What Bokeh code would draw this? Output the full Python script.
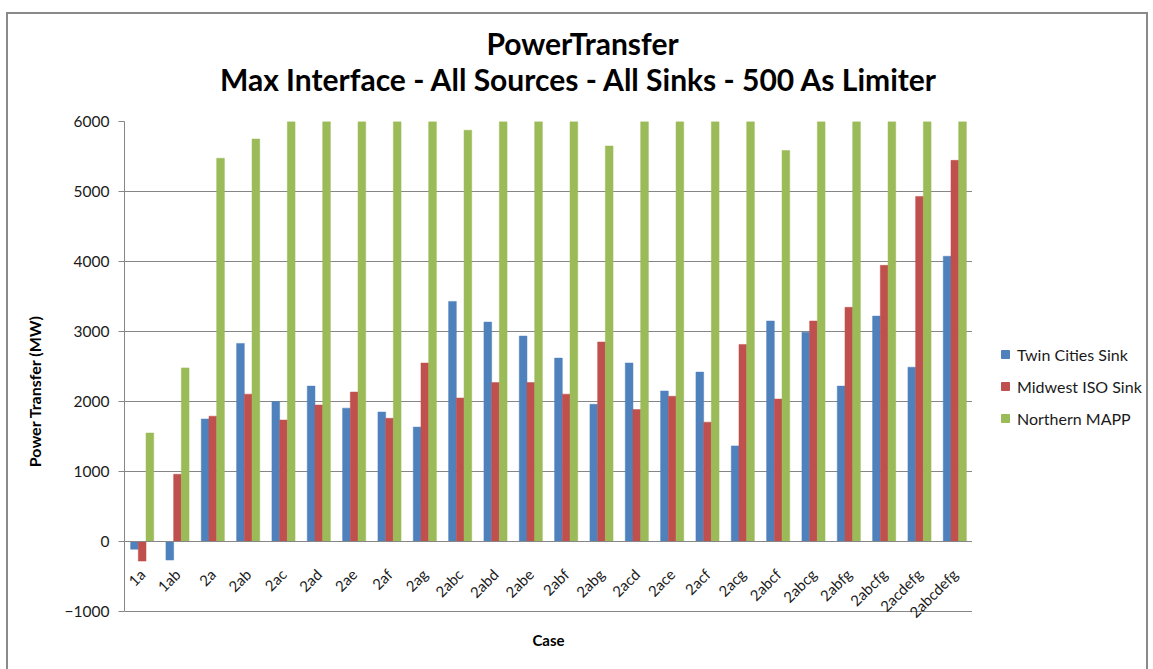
import math
import numpy as np
from bokeh.plotting import figure
from bokeh.models import (ColumnDataSource, FactorRange, Range1d, SingleIntervalTicker,
                          Legend, LegendItem, Label)
from bokeh.layouts import column, row
from bokeh.transform import dodge
from bokeh.embed import file_html
from bokeh.resources import INLINE

cases = ["1a", "1ab", "2a", "2ab", "2ac", "2ad", "2ae", "2af", "2ag", "2abc", "2abd",
         "2abe", "2abf", "2abg", "2acd", "2ace", "2acf", "2acg", "2abcf", "2abcg",
         "2abfg", "2abcfg", "2acdefg", "2abcdefg"]
twin_cities = [-110, -265, 1750, 2830, 2000, 2220, 1905, 1850, 1635, 3430, 3135,
               2935, 2620, 1960, 2550, 2150, 2420, 1365, 3150, 2990, 2220, 3220, 2490, 4075]
midwest_iso = [-280, 960, 1790, 2105, 1735, 1950, 2135, 1760, 2550, 2050, 2270,
               2270, 2105, 2850, 1885, 2075, 1705, 2815, 2035, 3150, 3345, 3945, 4930, 5445]
northern_mapp = [1550, 2480, 5475, 5750, 6000, 6000, 6000, 6000, 6000, 5875, 6000,
                 6000, 6000, 5650, 6000, 6000, 6000, 6000, 5585, 6000, 6000, 6000, 6000, 6000]
series_names = ["Twin Cities Sink", "Midwest ISO Sink", "Northern MAPP"]
title_lines = ["PowerTransfer", "Max Interface - All Sources - All Sinks - 500 As Limiter"]
y_title = "Power Transfer (MW)"
x_title = "Case"

FONT = "Lato"
colors = ["#4F81BD", "#C0504D", "#9BBB59"]
GRID = "#868686"
TXT = "#1a1a1a"

W_TOTAL = 1138
TITLE_H = 90
MAIN_W = 964
MAIN_H = 565

# ---------- title strip ----------
pt = figure(x_range=Range1d(0, W_TOTAL), y_range=Range1d(0, TITLE_H), width=W_TOTAL,
            height=TITLE_H, output_backend="svg", toolbar_location=None, min_border=0,
            x_axis_location=None, y_axis_location=None)
pt.title.visible = False
pt.grid.visible = False
pt.outline_line_color = None
for txt, xs, ys in zip(title_lines, [574, 571], [62, 26]):
    pt.add_layout(Label(x=xs, y=ys, text=txt, text_align="center", text_baseline="middle",
                        text_font=FONT, text_font_size="30px", text_font_style="bold",
                        text_color="#000000"))

# ---------- main chart ----------
source = ColumnDataSource(dict(case=cases, tc=twin_cities, mi=midwest_iso, nm=northern_mapp))

p = figure(x_range=FactorRange(*cases), y_range=Range1d(-1700, 6000),
           width=MAIN_W, height=MAIN_H, output_backend="svg", toolbar_location=None,
           min_border_left=116, min_border_right=0, min_border_top=17, min_border_bottom=9)
p.title.visible = False
p.outline_line_color = None

bw = 0.218
renderers = []
for field, off, col in zip(["tc", "mi", "nm"], [-bw, 0, bw], colors):
    r = p.vbar(x=dodge("case", off, range=p.x_range), top=field, bottom=0, width=bw,
               source=source, fill_color=col, line_color=col, line_width=0.5)
    renderers.append(r)

p.xgrid.visible = False
p.ygrid.grid_line_color = GRID
p.ygrid.grid_line_width = 1

p.yaxis.ticker = SingleIntervalTicker(interval=1000, num_minor_ticks=0)
p.yaxis.bounds = (-1000, 6000)
p.yaxis.axis_line_color = GRID
p.yaxis.major_tick_line_color = GRID
p.yaxis.major_tick_out = 6
p.yaxis.major_tick_in = 0
p.yaxis.minor_tick_line_color = None
p.yaxis.major_label_standoff = 9
p.yaxis.major_label_text_font = FONT
p.yaxis.major_label_text_font_size = "15.5px"
p.yaxis.major_label_text_color = TXT
p.yaxis.axis_label = y_title
p.yaxis.axis_label_text_font = FONT
p.yaxis.axis_label_text_font_size = "16px"
p.yaxis.axis_label_text_font_style = "bold"
p.yaxis.axis_label_text_color = "#000000"
p.yaxis.axis_label_standoff = 18

p.xaxis.fixed_location = 0
p.xaxis.axis_line_color = GRID
p.xaxis.major_tick_line_color = None
p.xaxis.major_tick_out = 0
p.xaxis.major_tick_in = 0
p.xaxis.minor_tick_line_color = None
p.xaxis.major_label_orientation = math.pi / 4
p.xaxis.major_label_standoff = 30
p.xaxis.major_label_text_font = FONT
p.xaxis.major_label_text_font_size = "15px"
p.xaxis.major_label_text_color = TXT

# x-axis title, centred under the plot area
p.add_layout(Label(x=424, x_units="screen", y=-1400, text=x_title, text_align="center",
                   text_baseline="middle", text_font=FONT, text_font_size="15px",
                   text_font_style="bold", text_color="#000000"))

# ---------- legend panel ----------
pl = figure(x_range=Range1d(0, 1), y_range=Range1d(0, 1), width=W_TOTAL - MAIN_W,
            height=MAIN_H, output_backend="svg", toolbar_location=None, min_border=0,
            x_axis_location=None, y_axis_location=None)
pl.title.visible = False
pl.grid.visible = False
pl.outline_line_color = None
leg_src = ColumnDataSource(dict(x=np.array([0.5]), top=np.array([np.nan])))
leg_renderers = [pl.vbar(x="x", top="top", width=0.1, source=leg_src, fill_color=c, line_color=c)
                 for c in colors]
legend = Legend(items=[LegendItem(label=n, renderers=[r]) for n, r in zip(series_names, leg_renderers)],
                location=(28, 232), orientation="vertical", border_line_color=None,
                background_fill_alpha=0, padding=0, margin=0, spacing=12,
                glyph_width=10, glyph_height=10, label_standoff=7, label_height=20,
                label_text_font=FONT, label_text_font_size="16px", label_text_color=TXT)
pl.add_layout(legend)

layout = column(pt, row(p, pl, spacing=0), spacing=0)
layout.styles = {"border-left": "2px solid #8a8a8a", "border-top": "2px solid #8a8a8a",
                 "border-right": "2px solid #8a8a8a", "margin-left": "6px", "margin-top": "12px"}

open("out.html", "w").write(file_html(layout, INLINE))
